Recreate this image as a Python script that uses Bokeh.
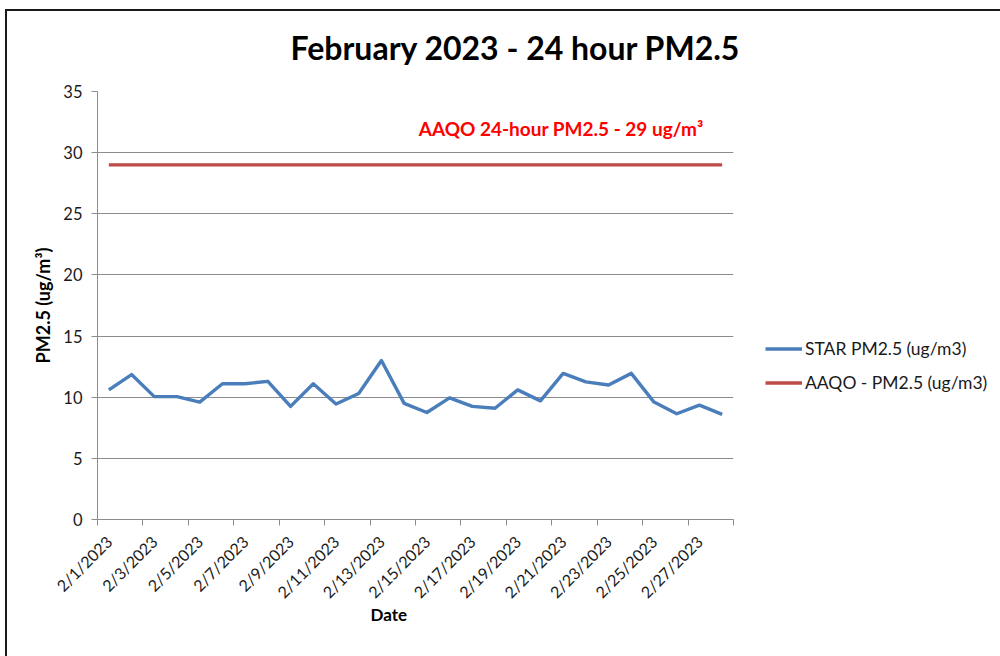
import math
from bokeh.plotting import figure
from bokeh.models import (Range1d, FixedTicker, Label, Legend, LegendItem,
                          ColumnDataSource, Title)
from bokeh.embed import file_html
from bokeh.resources import INLINE

# ---- data ----
days = [1, 2, 3, 4, 5, 6, 7, 8, 9, 10, 11, 12, 13, 14,
        15, 16, 17, 18, 19, 20, 21, 22, 23, 24, 25, 26, 27, 28]
date_labels = ["2/1/2023", "2/2/2023", "2/3/2023", "2/4/2023", "2/5/2023",
               "2/6/2023", "2/7/2023", "2/8/2023", "2/9/2023", "2/10/2023",
               "2/11/2023", "2/12/2023", "2/13/2023", "2/14/2023", "2/15/2023",
               "2/16/2023", "2/17/2023", "2/18/2023", "2/19/2023", "2/20/2023",
               "2/21/2023", "2/22/2023", "2/23/2023", "2/24/2023", "2/25/2023",
               "2/26/2023", "2/27/2023", "2/28/2023"]
star_pm25 = [10.6, 11.85, 10.05, 10.05, 9.6, 11.1, 11.1, 11.3, 9.25, 11.1,
             9.45, 10.3, 13.0, 9.5, 8.75, 9.95, 9.25, 9.1, 10.6, 9.7,
             11.95, 11.25, 11.0, 11.95, 9.6, 8.65, 9.35, 8.6]
aaqo_pm25 = [29, 29, 29, 29, 29, 29, 29, 29, 29, 29, 29, 29, 29, 29,
             29, 29, 29, 29, 29, 29, 29, 29, 29, 29, 29, 29, 29, 29]
y_ticks = [0, 5, 10, 15, 20, 25, 30, 35]

FONT = "Lato"
BLUE = "#4A7EBB"
RED = "#BE4B48"
GRID = "#8C8C8C"
TXT = "#1a1a1a"

src = ColumnDataSource(dict(x=days, star=star_pm25, aaqo=aaqo_pm25))

p = figure(frame_width=636, frame_height=428,
           min_border_left=97, min_border_right=262,
           min_border_top=91, min_border_bottom=137,
           x_range=Range1d(0.5, 28.5), y_range=Range1d(0, 35),
           output_backend="svg", toolbar_location=None)
# chart-area frame (left and top edges visible, as in the original)
p.styles = {
    "background-image": "linear-gradient(#1a1a1a, #1a1a1a), linear-gradient(#1a1a1a, #1a1a1a)",
    "background-size": "2px 100%, 100% 2px",
    "background-position": "5px 9px, 5px 9px",
    "background-repeat": "no-repeat",
}
p.border_fill_alpha = 0
p.outline_line_color = None
p.background_fill_color = "white"

# title
p.title.text = "February 2023 - 24 hour PM2.5"
p.title.text_font = FONT
p.title.text_font_style = "bold"
p.title.text_font_size = "32px"
p.title.text_color = "black"
p.title.align = "left"
p.title.offset = 193
p.title.standoff = 50

# lines
r_star = p.line("x", "star", source=src, line_color=BLUE, line_width=3.4,
                line_join="round")
r_aaqo = p.line("x", "aaqo", source=src, line_color=RED, line_width=3.4)

# x axis
xa = p.xaxis[0]
xa.ticker = FixedTicker(ticks=days[0::2],
                        minor_ticks=[d - 0.5 for d in days[0::2]] + [28.5])
xa.major_label_overrides = {d: lab for d, lab in zip(days, date_labels)}
xa.major_label_orientation = math.pi / 4
xa.major_tick_out = 0
xa.major_tick_in = 0
xa.minor_tick_out = 6
xa.minor_tick_in = 0
xa.minor_tick_line_color = GRID
xa.axis_line_color = GRID
xa.major_label_text_font = FONT
xa.major_label_text_font_size = "16px"
xa.major_label_text_color = TXT
xa.major_label_standoff = 13
p.xgrid.grid_line_color = None

# x axis title, offset to the left as in the original
date_title = Title(text="Date", align="left", offset=273, standoff=-20,
                   text_font=FONT, text_font_style="bold",
                   text_font_size="17px", text_color="black")
p.add_layout(date_title, "below")

# y axis
ya = p.yaxis[0]
ya.ticker = FixedTicker(ticks=y_ticks)
ya.major_tick_out = 6
ya.major_tick_in = 0
ya.minor_tick_out = 0
ya.minor_tick_in = 0
ya.major_tick_line_color = GRID
ya.axis_line_color = GRID
ya.major_label_text_font = FONT
ya.major_label_text_font_size = "16.5px"
ya.major_label_text_color = TXT
ya.major_label_standoff = 9
ya.axis_label = "PM2.5 (ug/m³)"
ya.axis_label_text_font = FONT
ya.axis_label_text_font_style = "bold"
ya.axis_label_text_font_size = "18px"
ya.axis_label_text_color = "black"
ya.axis_label_standoff = 6
p.ygrid.grid_line_color = GRID
p.ygrid.grid_line_width = 1
p.ygrid.ticker = FixedTicker(ticks=y_ticks)

# annotation
p.add_layout(Label(x=14.64, y=31.95, text="AAQO 24-hour PM2.5 - 29 ug/m³",
                   text_font=FONT, text_font_style="bold",
                   text_font_size="19px", text_color="#FF0000",
                   text_align="left", text_baseline="middle"))

legend = Legend(items=[LegendItem(label="STAR PM2.5 (ug/m3)", renderers=[r_star]),
                       LegendItem(label="AAQO - PM2.5 (ug/m3)", renderers=[r_aaqo])],
                location=(32, 126), orientation="vertical")
legend.label_text_font = FONT
legend.label_text_font_size = "17.5px"
legend.label_text_color = TXT
legend.glyph_width = 37
legend.glyph_height = 21
legend.label_standoff = 3
legend.spacing = 13
legend.padding = 0
legend.margin = 0
legend.border_line_color = None
legend.background_fill_alpha = 0
p.add_layout(legend, "right")

open("out.html", "w").write(file_html(p, INLINE))
